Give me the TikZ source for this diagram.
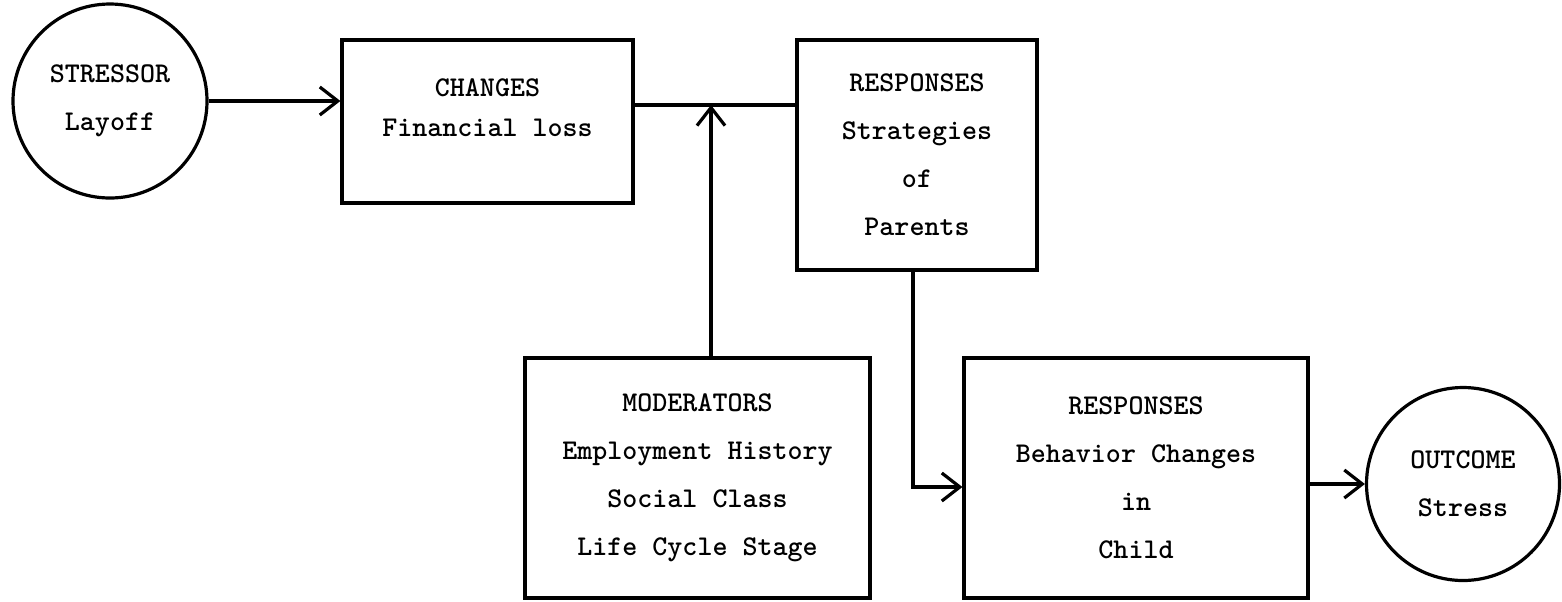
\documentclass[tikz,border=0pt]{standalone}
\usetikzlibrary{arrows.meta}

\begin{document}
\begin{tikzpicture}[x=0.5pt,y=-0.5pt,
	box/.style={draw, line width=1.6pt, align=center, inner sep=0pt},
	blob/.style={draw, circle, line width=1.6pt, align=center, inner sep=0pt},
	link/.style={line width=1.6pt},
	flow/.style={link, -{Straight Barb[length=9pt,width=14pt,line width=1.6pt]}},
	font=\ttfamily\bfseries\fontsize{14.3}{24}\selectfont]
	\useasboundingbox (0,0) rectangle (1562,601);
	%\draw[step=100,color=gray!30] (0,0) grid (1562,601);
	\node[blob, minimum size=97pt] (stressor) at (110,101) {STRESSOR\\Layoff};
	\node[box, minimum width=145.5pt, minimum height=81.5pt, text depth=14pt] (changes) at (487.5,121.5) {CHANGES\\[-4pt]Financial loss};
	\node[box, minimum width=120pt, minimum height=115pt] (parents) at (917,155) {RESPONSES\\Strategies\\of\\Parents};
	\node[box, minimum width=172.5pt, minimum height=120pt] (moderators) at (697.5,478) {MODERATORS\\Employment History\\Social Class\\Life Cycle Stage};
	\node[box, minimum width=172pt, minimum height=120pt] (child) at (1136,478) {RESPONSES\\Behavior Changes\\in\\Child};
	\node[blob, minimum size=96.5pt] (outcome) at (1463,484) {OUTCOME\\Stress};
	\coordinate (join) at (711,105);
	\coordinate (bend) at (913,487);
	\draw[flow] (stressor.east) -- (stressor.east -| changes.west);
	\draw[link] (changes.east |- join) -- (parents.west |- join);
	\draw[flow] (moderators.north -| join) -- (join);
	\draw[flow] (parents.south -| bend) -- (bend) -- (child.west |- bend);
	\draw[flow] (child.east |- outcome) -- (outcome.west);
\end{tikzpicture}
\end{document}
